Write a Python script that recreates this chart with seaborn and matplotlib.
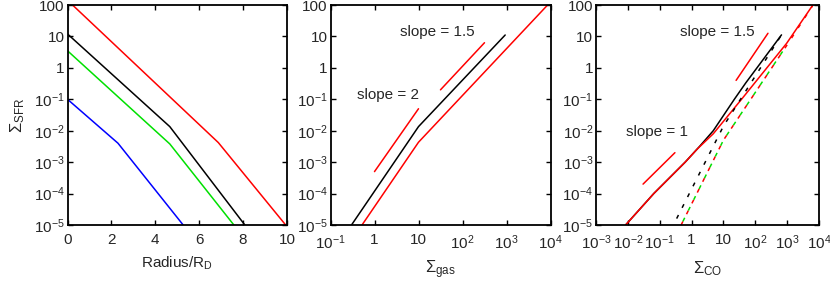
import numpy as np
import pandas as pd
import seaborn as sns
import matplotlib
matplotlib.use("Agg")
import matplotlib.pyplot as plt
import matplotlib.ticker as mticker

sns.set_theme(style="ticks")
plt.rcParams["font.family"] = ["Liberation Sans", "DejaVu Sans"]
plt.rcParams["mathtext.fontset"] = "custom"
plt.rcParams["mathtext.rm"] = "Liberation Sans"
plt.rcParams["mathtext.it"] = "Liberation Sans:italic"
plt.rcParams["mathtext.sf"] = "Liberation Sans"
plt.rcParams["lines.scale_dashes"] = False
FS = 11

# ---- left panel: SFR vs radius (breakpoints)
r_red = [0.23, 6.87, 9.94]
sfr_r_red = [100, 4.2e-3, 1e-5]
r_black = [0.0, 4.66, 8.08]
sfr_r_black = [12, 1.35e-2, 1e-5]
r_green = [0.0, 4.66, 7.58]
sfr_r_green = [3.5, 3.8e-3, 1e-5]
r_blue = [0.0, 2.3, 5.27]
sfr_r_blue = [0.1, 4e-3, 1e-5]

# ---- middle panel: SFR vs gas
gas_black = [0.3, 10, 933]
sfr_g_black = [1e-5, 1.35e-2, 11.1]
gas_red = [0.52, 10, 8300]
sfr_g_red = [1e-5, 4.3e-3, 95]
gas_slope2 = [1, 10]
sfr_slope2 = [5e-4, 5e-2]
gas_slope15 = [31.6, 316]
sfr_slope15 = [0.2, 6.3]

# ---- right panel: SFR vs CO
co_black = [0.0085, 0.065, 0.63, 1.8, 4.8, 22, 50, 665]
sfr_c_black = [1e-5, 1e-4, 1e-3, 3.2e-3, 1e-2, 0.1, 0.33, 11.2]
co_red = [0.0085, 0.065, 0.63, 1.5, 4.8, 37, 960, 6200]
sfr_c_red = [1e-5, 1e-4, 1e-3, 2.6e-3, 8e-3, 0.1, 6.0, 95]
co_black_dot = [0.34, 10, 665]
sfr_c_black_dot = [1.6e-5, 1.4e-2, 11.2]
co_red_dash = [0.47, 10, 1070, 6500]
sfr_c_red_dash = [1e-5, 5e-3, 6.0, 100]
co_green_dash = [0.47, 10, 800]
sfr_c_green_dash = [1e-5, 5e-3, 3.9]
co_slope1 = [0.03, 0.3]
sfr_slope1 = [2e-4, 2e-3]
co_slope15 = [25, 250]
sfr_c_slope15 = [0.4, 12.6]

yticks = [1e-5, 1e-4, 1e-3, 1e-2, 1e-1, 1, 10, 100]
ytick_labels = [r"$10^{-5}$", r"$10^{-4}$", r"$10^{-3}$", r"$10^{-2}$",
                r"$10^{-1}$", "1", "10", "100"]
gas_ticks = [0.1, 1, 10, 100, 1000, 10000]
gas_labels = [r"$10^{-1}$", "1", "10", r"$10^{2}$", r"$10^{3}$", r"$10^{4}$"]
co_ticks = [1e-3, 1e-2, 1e-1, 1, 10, 100, 1000, 10000]
co_labels = [r"$10^{-3}$", r"$10^{-2}$", r"$10^{-1}$", "1", "10",
             r"$10^{2}$", r"$10^{3}$", r"$10^{4}$"]

RED, BLACK, GREEN, BLUE = "#ff0000", "#000000", "#00e000", "#0000ff"
LW = 1.1
DASH = (0, (2.9, 5.8))
GDASH = (5.8, (2.9, 5.8))

W, H = 830, 282
fig = plt.figure(figsize=(8.3, 2.82), dpi=100)
ax1 = fig.add_axes([67.5 / W, (H - 225) / H, 219.5 / W, 220 / H])
ax2 = fig.add_axes([330.5 / W, (H - 225) / H, 220 / W, 220 / H])
ax3 = fig.add_axes([596 / W, (H - 225) / H, 223 / W, 220 / H])


def line(ax, x, y, color, ls="-"):
    sns.lineplot(x=x, y=y, ax=ax, color=color, lw=LW, linestyle=ls,
                 sort=False, estimator=None)


line(ax1, r_red, sfr_r_red, RED)
line(ax1, r_black, sfr_r_black, BLACK)
line(ax1, r_green, sfr_r_green, GREEN)
line(ax1, r_blue, sfr_r_blue, BLUE)

line(ax2, gas_black, sfr_g_black, BLACK)
line(ax2, gas_red, sfr_g_red, RED)
line(ax2, gas_slope2, sfr_slope2, RED)
line(ax2, gas_slope15, sfr_slope15, RED)
ax2.text(2.0, 0.14, "slope = 2", fontsize=FS, ha="center", va="center")
ax2.text(27, 13.8, "slope = 1.5", fontsize=FS, ha="center", va="center")

line(ax3, co_black, sfr_c_black, BLACK)
line(ax3, co_red, sfr_c_red, RED)
line(ax3, co_black_dot, sfr_c_black_dot, BLACK, DASH)
line(ax3, co_red_dash, sfr_c_red_dash, RED, DASH)
line(ax3, co_green_dash, sfr_c_green_dash, GREEN, GDASH)
line(ax3, co_slope1, sfr_slope1, RED)
line(ax3, co_slope15, sfr_c_slope15, RED)
ax3.text(0.08, 8.9e-3, "slope = 1", fontsize=FS, ha="center", va="center")
ax3.text(6.2, 13.5, "slope = 1.5", fontsize=FS, ha="center", va="center")

for ax in (ax1, ax2, ax3):
    ax.set_yscale("log")
    ax.set_ylim(1e-5, 100)
    ax.yaxis.set_major_locator(mticker.FixedLocator(yticks))
    ax.yaxis.set_major_formatter(mticker.FixedFormatter(ytick_labels))
    ax.yaxis.set_minor_locator(mticker.NullLocator())
    ax.tick_params(which="both", direction="in", top=True, right=True,
                   length=3.6, width=1.0, labelsize=FS, pad=2, color="black")
    ax.tick_params(axis="x", pad=6)
    for s in ax.spines.values():
        s.set_linewidth(1.3)
        s.set_color("black")
    ax.set_facecolor("white")

ax1.set_xlim(0, 10)
ax1.set_xticks([0, 2, 4, 6, 8, 10])
ax1.set_xlabel(r"Radius/R$_\mathregular{D}$", fontsize=FS, labelpad=5)
ax1.set_ylabel(r"$\Sigma_\mathregular{SFR}$", fontsize=12, labelpad=5)

ax2.set_xscale("log")
ax2.set_xlim(0.1, 1e4)
ax2.xaxis.set_major_locator(mticker.FixedLocator(gas_ticks))
ax2.xaxis.set_major_formatter(mticker.FixedFormatter(gas_labels))
ax2.xaxis.set_minor_locator(mticker.NullLocator())
ax2.set_xlabel(r"$\Sigma_\mathregular{gas}$", fontsize=12, labelpad=5)

ax3.set_xscale("log")
ax3.set_xlim(1e-3, 1e4)
ax3.xaxis.set_major_locator(mticker.FixedLocator(co_ticks))
ax3.xaxis.set_major_formatter(mticker.FixedFormatter(co_labels))
ax3.xaxis.set_minor_locator(mticker.NullLocator())
ax3.set_xlabel(r"$\Sigma_\mathregular{CO}$", fontsize=12, labelpad=5)

ax2.set_ylabel("")
ax3.set_ylabel("")

fig.savefig("out.png", dpi=100)
